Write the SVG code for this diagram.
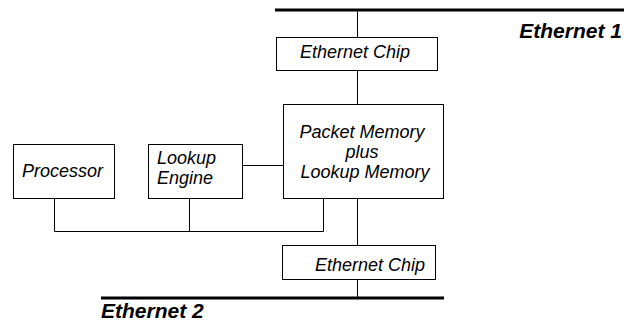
<svg xmlns="http://www.w3.org/2000/svg" width="624" height="330" viewBox="0 0 624 330">
<style>
.box{fill:#fff;stroke:#000;stroke-width:1}
.t{font-family:"Liberation Sans",Arial,sans-serif;font-style:italic;font-size:18px;fill:#000}
.b{font-family:"Liberation Sans",Arial,sans-serif;font-style:italic;font-weight:bold;font-size:21px;fill:#000}
.ln{stroke:#000;stroke-width:1;fill:none}
.bus{stroke:#000;stroke-width:3;fill:none}
</style>
<rect width="624" height="330" fill="#fff"/>
<g id="connectors">
<line class="bus" x1="275" y1="10" x2="624" y2="10"/>
<line class="bus" x1="101" y1="298" x2="444" y2="298"/>
<line class="ln" x1="357.5" y1="10" x2="357.5" y2="37"/>
<line class="ln" x1="357.5" y1="70" x2="357.5" y2="104"/>
<line class="ln" x1="357.5" y1="198" x2="357.5" y2="245"/>
<line class="ln" x1="357.5" y1="279" x2="357.5" y2="298"/>
<line class="ln" x1="242" y1="165.5" x2="283" y2="165.5"/>
<polyline class="ln" points="54.5,198 54.5,231.5 323.5,231.5 323.5,198"/>
<line class="ln" x1="189.5" y1="198" x2="189.5" y2="231.5"/>
</g>
<g id="ethernet1"><text class="b" x="622" y="38" text-anchor="end">Ethernet 1</text></g>
<g id="ethernet2"><text class="b" x="101" y="318">Ethernet 2</text></g>
<g id="chip1">
<rect class="box" x="276.5" y="37.5" width="161" height="33"/>
<text class="t" x="355" y="58" text-anchor="middle">Ethernet Chip</text>
</g>
<g id="memory">
<rect class="box" x="283.5" y="104.5" width="160" height="94"/>
<text class="t" x="362" y="138" text-anchor="middle">Packet Memory</text>
<text class="t" x="362" y="158" text-anchor="middle">plus</text>
<text class="t" x="365" y="178" text-anchor="middle">Lookup Memory</text>
</g>
<g id="processor">
<rect class="box" x="13.5" y="144.5" width="101" height="54"/>
<text class="t" x="22" y="177">Processor</text>
</g>
<g id="lookup">
<rect class="box" x="148.5" y="144.5" width="94" height="54"/>
<text class="t" x="157" y="164">Lookup</text>
<text class="t" x="157" y="184">Engine</text>
</g>
<g id="chip2">
<rect class="box" x="282.5" y="245.5" width="153" height="34"/>
<text class="t" x="425" y="271" text-anchor="end">Ethernet Chip</text>
</g>
</svg>
